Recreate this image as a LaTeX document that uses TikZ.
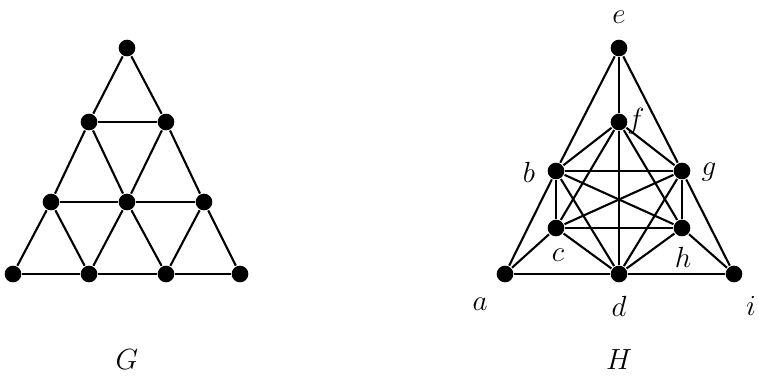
\documentclass[tikz,border=0pt]{standalone}
\usepackage{amsmath,amssymb}
\usepackage{tikz}

\tikzset{
  vtx/.style={circle, fill=black, inner sep=0pt, minimum size=0.5cm},
  lbl/.style={font=\Huge, inner sep=1pt},
}

\begin{document}
\begin{tikzpicture}[x=0.03cm, y=-0.03cm, line width=1.8pt]
 \useasboundingbox (0,0) rectangle (759,381);

 % graph G
 \node[vtx] (g1) at (127,48) {};
 \node[vtx] (g2) at (89,122) {};
 \node[vtx] (g3) at (166,122) {};
 \node[vtx] (g4) at (51,202) {};
 \node[vtx] (g5) at (127,202) {};
 \node[vtx] (g6) at (204,202) {};
 \node[vtx] (g7) at (13,274) {};
 \node[vtx] (g8) at (89,274) {};
 \node[vtx] (g9) at (166,274) {};
 \node[vtx] (g10) at (240,274) {};
 \foreach \s/\t in {g1/g2, g1/g3, g2/g3, g2/g4, g2/g5, g3/g5, g3/g6,
   g4/g5, g5/g6, g4/g7, g4/g8, g5/g8, g5/g9, g6/g9, g6/g10,
   g7/g8, g8/g9, g9/g10}
   \draw (\s) -- (\t);
 \node[lbl] (Glab) at (127,360) {$G$};

 % graph H
 \node[vtx] (e) at (619,48) {};
 \node[vtx] (f) at (619,122) {};
 \node[vtx] (b) at (556,171) {};
 \node[vtx] (g) at (682,171) {};
 \node[vtx] (c) at (556,228) {};
 \node[vtx] (h) at (682,228) {};
 \node[vtx] (a) at (505,274) {};
 \node[vtx] (d) at (619,274) {};
 \node[vtx] (i) at (734,274) {};
 \foreach \s/\t in {e/b, e/f, e/g, b/a, g/i, f/d, f/b, f/g, f/c, f/h,
   b/g, c/h, b/c, g/h, b/h, c/g, b/d, c/d, g/d, h/d,
   a/c, a/d, d/i, h/i}
   \draw (\s) -- (\t);
 \node[lbl] (el) at (619,17) {$e$};
 \node[lbl] (fl) at (636,121) {$f$};
 \node[lbl] (bl) at (529,172) {$b$};
 \node[lbl] (gl) at (709,172) {$g$};
 \node[lbl] (cl) at (558,255) {$c$};
 \node[lbl] (hl) at (683,257) {$h$};
 \node[lbl] (al) at (480,304) {$a$};
 \node[lbl] (dl) at (619,306) {$d$};
 \node[lbl] (il) at (751,306) {$i$};
 \node[lbl] (Hlab) at (619,360) {$H$};
\end{tikzpicture}
\end{document}
